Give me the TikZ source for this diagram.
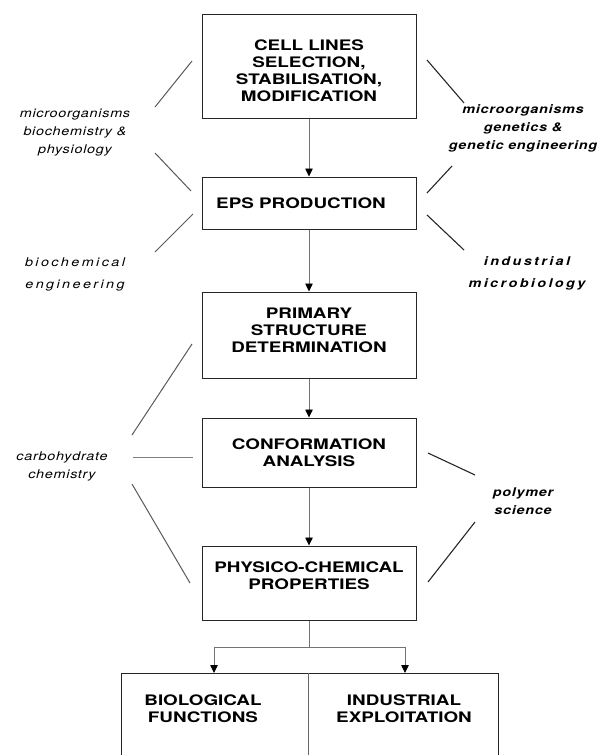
\documentclass[tikz,border=0pt]{standalone}
\usepackage{fontspec}
\setmainfont{TeX Gyre Heros}
\newfontfamily\boxfont[FakeStretch=1.3]{TeX Gyre Heros}
\newfontfamily\labfont[FakeStretch=1.2,LetterSpace=6]{TeX Gyre Heros}
\newfontfamily\spacedfont[FakeStretch=1.2,LetterSpace=20]{TeX Gyre Heros}
\usetikzlibrary{arrows.meta}
\begin{document}
\begin{tikzpicture}[x=1pt,y=-1pt,
  boxframe/.style={draw=black!85, line width=1pt, minimum width=214pt, inner sep=0pt},
  boxtext/.style={align=center, inner sep=0pt, font=\boxfont\bfseries\fontsize{14.5}{17}\selectfont},
  lab/.style={align=center, inner sep=0pt, font=\labfont\itshape\fontsize{12}{18}\selectfont},
  blab/.style={align=center, inner sep=0pt, font=\labfont\bfseries\itshape\fontsize{12}{18}\selectfont},
  slab/.style={align=center, inner sep=0pt, font=\spacedfont\itshape\fontsize{12}{22}\selectfont},
  sblab/.style={align=center, inner sep=0pt, font=\spacedfont\bfseries\itshape\fontsize{12}{22}\selectfont},
  infl/.style={line width=1.1pt, black!85},
  linfl/.style={line width=1pt, black!65},
  flowline/.style={line width=0.8pt, black!55},
  flow/.style={flowline, -{Triangle[length=8pt,width=7.5pt,color=black]}},
  frame/.style={draw=black!85, line width=1pt}
]
\path[use as bounding box] (0,0) rectangle (598,755);
\clip (0,0) rectangle (598,755);

% main boxes
\node[boxframe, minimum height=104pt] (cell) at (309,66) {};
\node[boxtext] (cellT) at (309,71) {CELL LINES\\SELECTION,\\STABILISATION,\\MODIFICATION};
\node[boxframe, minimum height=52pt] (eps) at (309,203) {};
\node[boxtext] (epsT) at (301,203) {EPS PRODUCTION};
\node[boxframe, minimum height=86pt] (prim) at (309,335) {};
\node[boxtext] (primT) at (309,330) {PRIMARY\\STRUCTURE\\DETERMINATION};
\node[boxframe, minimum height=69pt] (conf) at (309,452.5) {};
\node[boxtext] (confT) at (309,453) {CONFORMATION\\ANALYSIS};
\node[boxframe, minimum height=74pt] (phys) at (309,583) {};
\node[boxtext] (physT) at (309,576) {PHYSICO-CHEMICAL\\PROPERTIES};

% bottom open box
\coordinate (bbl) at (121,760);
\coordinate (btl) at (121,673);
\coordinate (btr) at (498,673);
\coordinate (bbr) at (498,760);
\coordinate (bdt) at (308,673);
\coordinate (bdb) at (308,760);
\draw[frame] (bbl) -- (btl) -- (btr) -- (bbr);
\draw[frame, black!60] (bdt) -- (bdb);
\node[boxtext] (bio) at (203,709) {BIOLOGICAL\\FUNCTIONS};
\node[boxtext] (ind) at (404,709) {INDUSTRIAL\\EXPLOITATION};

% flow arrows
\draw[flow] (cell.south) -- (eps.north);
\draw[flow] (eps.south) -- (prim.north);
\draw[flow] (prim.south) -- (conf.north);
\draw[flow] (conf.south) -- (phys.north);
\coordinate (sp) at (309,647);
\coordinate (bl) at (214,673);
\coordinate (br) at (405,673);
\draw[flowline] (phys.south) -- (sp);
\draw[flow] (sp) -| (bl);
\draw[flow] (sp) -| (br);

% labels
\node[lab] (la) at (75,133) {microorganisms\\biochemistry \&\\physiology};
\node[slab] (lb) at (75,274) {biochemical\\engineering};
\node[lab] (lc) at (62,466) {carbohydrate\\chemistry};
\node[blab] (ra) at (523,128) {microorganisms\\genetics \&\\genetic engineering};
\node[sblab] (rb) at (527,273) {industrial\\microbiology};
\node[blab] (rc) at (523,501) {polymer\\science};

% influence lines
\coordinate (l1a) at (155,107); \coordinate (l1b) at (192,61);
\coordinate (l2a) at (155,153); \coordinate (l2b) at (191,191);
\coordinate (l3a) at (193,214); \coordinate (l3b) at (155,252);
\coordinate (l4a) at (192,344); \coordinate (l4b) at (132,435);
\coordinate (l5a) at (132,484); \coordinate (l5b) at (190,583);
\coordinate (lha) at (133,457); \coordinate (lhb) at (193,457);
\coordinate (r1a) at (427,60);  \coordinate (r1b) at (464,103);
\coordinate (r2a) at (452,166); \coordinate (r2b) at (427,193);
\coordinate (r3a) at (427,215); \coordinate (r3b) at (464,250);
\coordinate (r4a) at (428,453); \coordinate (r4b) at (475,475);
\coordinate (r5a) at (475,522); \coordinate (r5b) at (428,582);
\draw[linfl] (l1a) -- (l1b);
\draw[linfl] (l2a) -- (l2b);
\draw[linfl] (l3a) -- (l3b);
\draw[linfl] (l4a) -- (l4b);
\draw[linfl] (l5a) -- (l5b);
\draw[linfl, black!50, line width=0.8pt] (lha) -- (lhb);
\draw[infl] (r1a) -- (r1b);
\draw[infl] (r2a) -- (r2b);
\draw[infl] (r3a) -- (r3b);
\draw[infl] (r4a) -- (r4b);
\draw[infl] (r5a) -- (r5b);
\end{tikzpicture}
\end{document}
